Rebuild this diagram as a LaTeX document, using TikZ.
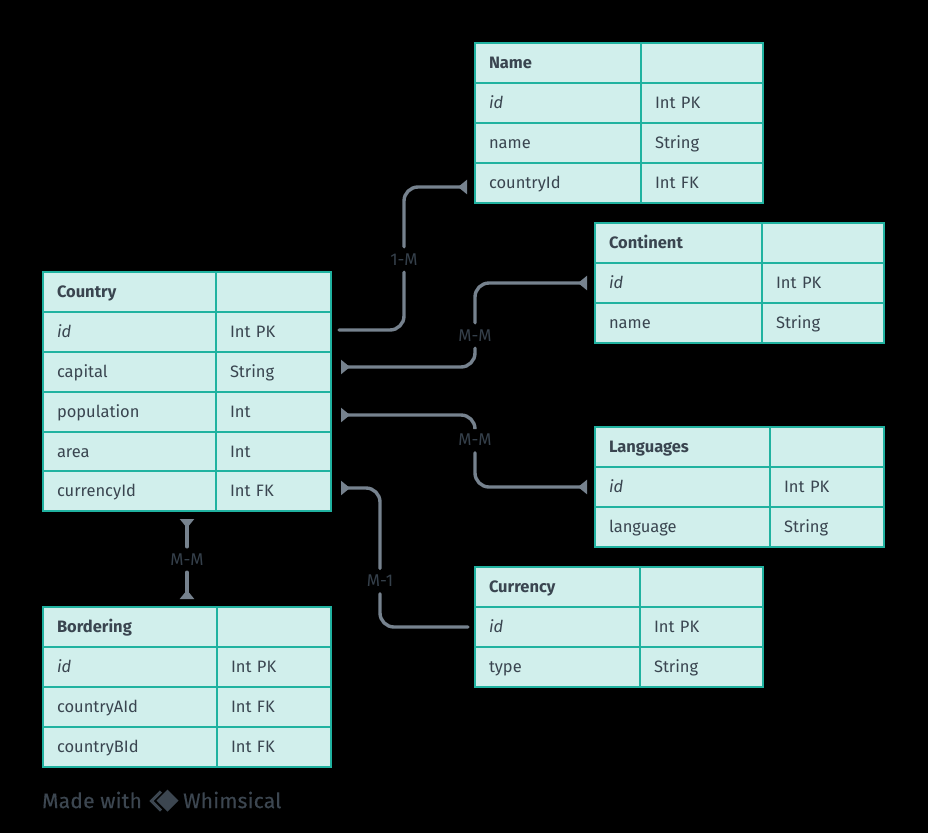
\documentclass[tikz,border=0pt]{standalone}
\usepackage{fontspec}
\setmainfont{Fira Sans}
\usetikzlibrary{arrows.meta}
\definecolor{cellfill}{HTML}{D1EFEC}
\definecolor{celledge}{HTML}{20B2A0}
\definecolor{celltext}{HTML}{3A4550}
\definecolor{connline}{HTML}{76828E}
\definecolor{connlabel}{HTML}{35404B}
\definecolor{markcolor}{HTML}{3C4650}
\tikzset{
  cellbox/.style={draw=celledge,fill=cellfill,line width=2pt,anchor=north west,rectangle,outer sep=0pt,
    inner xsep=14pt,inner ysep=0pt,minimum height=40pt,text width=#1-28pt,align=left,
    text height=12pt,text depth=1pt,
    text=celltext,font=\fontsize{16.5}{20}\selectfont},
  headbox/.style={cellbox=#1,font=\fontsize{16.5}{20}\selectfont\bfseries},
  keybox/.style={cellbox=#1,font=\fontsize{16.5}{20}\selectfont\itshape},
  conn/.style={draw=connline,line width=3.4pt,line cap=round,rounded corners=14pt},
  endtip/.style={-{Triangle[reversed,length=9pt,width=14pt]}},
  linklabel/.style={text=connlabel,inner sep=0pt,minimum height=25pt,font=\fontsize{17}{20}\selectfont},
  marktext/.style={text=markcolor,inner sep=0pt,anchor=west,font=\fontsize{21}{24}\selectfont\addfontfeature{LetterSpace=1,FakeBold=0.4}}
}
\newcommand{\tcell}[6]{\node[#1=#5pt] (#2) at (#3,#4) {#6};}
\begin{document}
\begin{tikzpicture}[x=1pt,y=-1pt]
\path[use as bounding box,fill=black] (0,0) rectangle (928,833);

% Country
\tcell{headbox}{ctyH}{43}{272}{173}{Country}
\tcell{cellbox}{ctyHT}{216}{272}{115}{}
\tcell{keybox}{ctyId}{43}{312}{173}{id}
\tcell{cellbox}{ctyIdT}{216}{312}{115}{Int PK}
\tcell{cellbox}{ctyCap}{43}{352}{173}{capital}
\tcell{cellbox}{ctyCapT}{216}{352}{115}{String}
\tcell{cellbox}{ctyPop}{43}{392}{173}{population}
\tcell{cellbox}{ctyPopT}{216}{392}{115}{Int}
\tcell{cellbox}{ctyArea}{43}{432}{173}{area}
\tcell{cellbox}{ctyAreaT}{216}{432}{115}{Int}
\tcell{cellbox}{ctyCur}{43}{471}{173}{currencyId}
\tcell{cellbox}{ctyCurT}{216}{471}{115}{Int FK}

% Name
\tcell{headbox}{namH}{475}{43}{166}{Name}
\tcell{cellbox}{namHT}{641}{43}{122}{}
\tcell{keybox}{namId}{475}{83}{166}{id}
\tcell{cellbox}{namIdT}{641}{83}{122}{Int PK}
\tcell{cellbox}{namNm}{475}{123}{166}{name}
\tcell{cellbox}{namNmT}{641}{123}{122}{String}
\tcell{cellbox}{namFk}{475}{163}{166}{countryId}
\tcell{cellbox}{namFkT}{641}{163}{122}{Int FK}

% Continent
\tcell{headbox}{conH}{595}{223}{167}{Continent}
\tcell{cellbox}{conHT}{762}{223}{122}{}
\tcell{keybox}{conId}{595}{263}{167}{id}
\tcell{cellbox}{conIdT}{762}{263}{122}{Int PK}
\tcell{cellbox}{conNm}{595}{303}{167}{name}
\tcell{cellbox}{conNmT}{762}{303}{122}{String}

% Languages
\tcell{headbox}{lanH}{595}{427}{175}{Languages}
\tcell{cellbox}{lanHT}{770}{427}{114}{}
\tcell{keybox}{lanId}{595}{467}{175}{id}
\tcell{cellbox}{lanIdT}{770}{467}{114}{Int PK}
\tcell{cellbox}{lanLg}{595}{507}{175}{language}
\tcell{cellbox}{lanLgT}{770}{507}{114}{String}

% Currency
\tcell{headbox}{curH}{475}{567}{165}{Currency}
\tcell{cellbox}{curHT}{640}{567}{123}{}
\tcell{keybox}{curId}{475}{607}{165}{id}
\tcell{cellbox}{curIdT}{640}{607}{123}{Int PK}
\tcell{cellbox}{curTy}{475}{647}{165}{type}
\tcell{cellbox}{curTyT}{640}{647}{123}{String}

% Bordering
\tcell{headbox}{borH}{43}{607}{174}{Bordering}
\tcell{cellbox}{borHT}{217}{607}{114}{}
\tcell{keybox}{borId}{43}{647}{174}{id}
\tcell{cellbox}{borIdT}{217}{647}{114}{Int PK}
\tcell{cellbox}{borA}{43}{687}{174}{countryAId}
\tcell{cellbox}{borAT}{217}{687}{114}{Int FK}
\tcell{cellbox}{borB}{43}{727}{174}{countryBId}
\tcell{cellbox}{borBT}{217}{727}{114}{Int FK}

% Ports
\coordinate (pA) at ([xshift=8pt,yshift=2pt]ctyIdT.east);
\coordinate (pB) at ([xshift=-8pt,yshift=-4pt]namFk.west);
\coordinate (pC) at ([xshift=10pt,yshift=5pt]ctyCapT.east);
\coordinate (pD) at ([xshift=-8pt]conId.west);
\coordinate (pE) at ([xshift=10pt,yshift=-3pt]ctyPopT.east);
\coordinate (pF) at ([xshift=-8pt]lanId.west);
\coordinate (pG) at ([xshift=10pt,yshift=3pt]ctyCurT.east);
\coordinate (pH) at ([xshift=-7pt]curId.west);
\coordinate (pI) at ([yshift=-8pt]ctyCur.south);
\coordinate (pJ) at ([yshift=8pt]borH.north);

% Link labels
\node[linklabel] (lA) at (404,259.5) {1-M};
\node[linklabel] (lB) at (475,335.5) {M-M};
\node[linklabel] (lC) at (475,440) {M-M};
\node[linklabel] (lD) at (380,581) {M-1};
\node[linklabel] (lE) at (187,559.5) {M-M};

% Connectors
\draw[conn] (pA) -| (lA.south);
\draw[conn,endtip] (lA.north) |- (pB);
\draw[conn,endtip] (lB.south) |- (pC);
\draw[conn,endtip] (lB.north) |- (pD);
\draw[conn,endtip] (lC.north) |- (pE);
\draw[conn,endtip] (lC.south) |- (pF);
\draw[conn,endtip] (lD.north) |- (pG);
\draw[conn] (lD.south) |- (pH);
\draw[conn,endtip] (lE.north) -- (lE.north |- pI);
\draw[conn,endtip] (lE.south) -- (lE.south |- pJ);

% Watermark
\node[marktext] (madeWith) at (42,800) {Made with};
\node[marktext] (whimsical) at (183,800) {Whimsical};
\fill[markcolor] (167.5,789.5) -- (178.5,800.5) -- (167.5,811.5) -- (156.5,800.5) -- cycle;
\draw[markcolor,line width=3pt,line join=miter] (161,791.5) -- (151.5,801) -- (161,810.5);
\end{tikzpicture}
\end{document}
